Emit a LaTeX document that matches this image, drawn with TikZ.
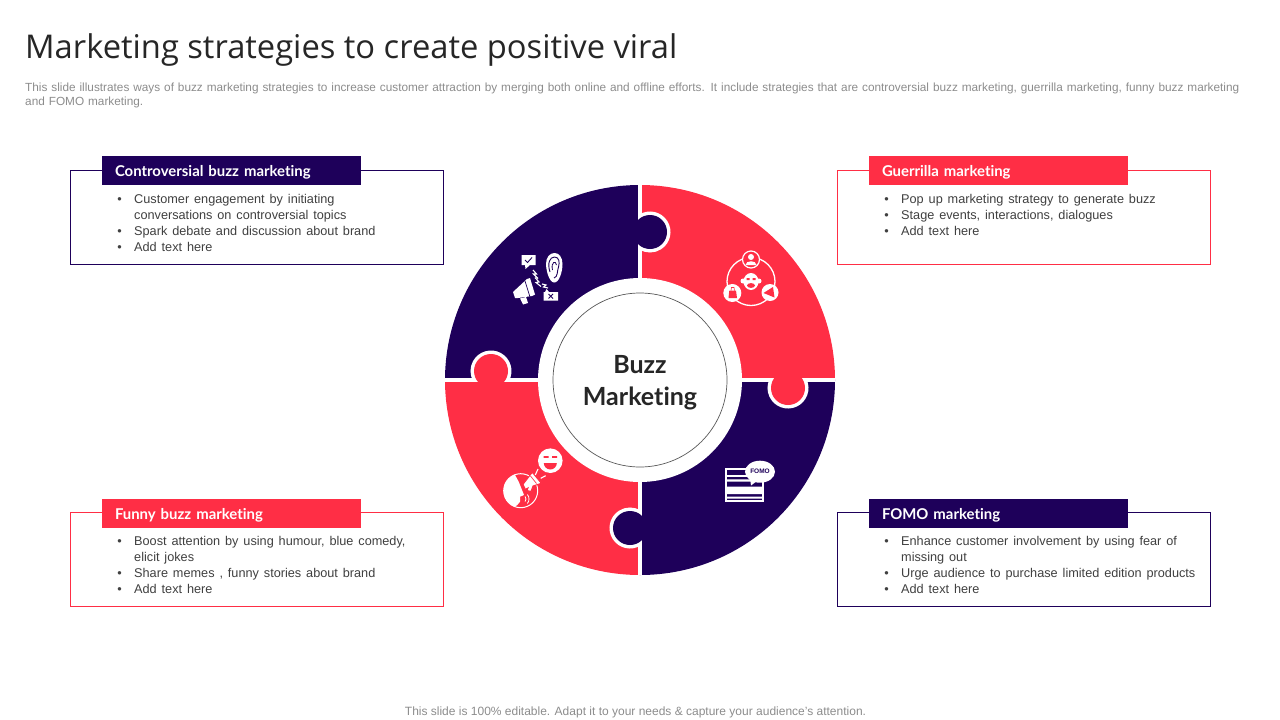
\documentclass[tikz,border=0pt]{standalone}
\usepackage{fontspec}
\setmainfont{Liberation Sans}
\newfontfamily\titlefont{Open Sans}
\newfontfamily\headfont[Ligatures=NoCommon]{Lato}
\usetikzlibrary{positioning,calc}
\definecolor{navy}{HTML}{1E005A}
\definecolor{redish}{HTML}{FF2E45}
\definecolor{bodygrey}{HTML}{404040}
\definecolor{notegrey}{HTML}{8C8C8C}
\newcommand{\bul}[1]{\par\spaceskip=4.9pt\relax\noindent\llap{\textbullet\hspace{12.5pt}}#1}

\begin{document}
\begin{tikzpicture}[
				x=1pt, y=-1pt,
				textbox/.style={rectangle, draw=#1, fill=white, line width=0.8pt, minimum width=373pt, minimum height=94pt, inner sep=0pt},
				headbox/.style={rectangle, fill=#1, text=white, minimum width=259pt, minimum height=29pt, inner sep=0pt, text width=233pt, text height=14pt, text depth=2pt, align=left, font=\headfont\fontsize{14.9}{16}\selectfont\bfseries},
				bullets/.style={rectangle, inner sep=0pt, text width=330pt, align=left, text=bodygrey, font=\fontsize{12.7}{16}\selectfont},
				knob/.style={circle, fill=#1, minimum size=34pt, inner sep=0pt},
				ring/.style={white, line width=4pt},
				lbl/.style={inner sep=0pt, text=notegrey}
			]
			\useasboundingbox (0,0) rectangle (1280,720);
			\node[anchor=west, inner sep=0pt, text=black!85, font=\titlefont\fontsize{32.7}{40}\selectfont] (title) at (25,50) {Marketing strategies to create positive viral};
			\node[lbl, anchor=north west, text width=1240pt, align=left, font=\fontsize{11.8}{14}\selectfont] (intro) at (25,82.5) {This slide illustrates ways of buzz marketing strategies to increase customer attraction by merging both online and offline efforts. It include strategies that are controversial buzz marketing, guerrilla marketing, funny buzz marketing\newline and FOMO marketing.};
			\node[lbl, font=\fontsize{12}{14}\selectfont] (note) at (635.5,712.5) {This slide is 100\% editable. Adapt it to your needs \& capture your audience’s attention.};

			% four boxes
			\node[textbox=navy] (boxone) at (256.5,217) {};
			\node[textbox=redish] (boxtwo) at (1023.5,217) {};
			\node[textbox=redish] (boxthree) at (256.5,559.5) {};
			\node[textbox=navy] (boxfour) at (1023.5,559.5) {};
			\node[headbox=navy] (headone) at (231.5,170.5) {Controversial buzz marketing};
			\node[headbox=redish] (headtwo) at (998.5,170.5) {Guerrilla marketing};
			\node[headbox=redish] (headthree) at (231.5,513) {Funny buzz marketing};
			\node[headbox=navy] (headfour) at (998.5,513) {FOMO marketing};
			\node[bullets, anchor=north west] (listone) at (134,187) {\bul{Customer engagement by initiating\newline conversations on controversial topics}\bul{Spark debate and discussion about brand}\bul{Add text here}};
			\node[bullets, anchor=north west] (listtwo) at (901,187) {\bul{Pop up marketing strategy to generate buzz}\bul{Stage events, interactions, dialogues}\bul{Add text here}};
			\node[bullets, anchor=north west] (listthree) at (134,529) {\bul{Boost attention by using humour, blue comedy,\newline elicit jokes}\bul{Share memes , funny stories about brand}\bul{Add text here}};
			\node[bullets, anchor=north west] (listfour) at (901,529) {\bul{Enhance customer involvement by using fear of\newline missing out}\bul{Urge audience to purchase limited edition products}\bul{Add text here}};

			% ring
			\coordinate (hub) at (640,380);
			\fill[navy] (hub) -- (445,380) arc[start angle=180, end angle=270, radius=195] -- cycle;
			\fill[redish] (hub) -- (640,185) arc[start angle=270, end angle=360, radius=195] -- cycle;
			\fill[navy] (hub) -- (835,380) arc[start angle=0, end angle=90, radius=195] -- cycle;
			\fill[redish] (hub) -- (640,575) arc[start angle=90, end angle=180, radius=195] -- cycle;
			\draw[ring] (445,380) -- (835,380);
			\draw[ring] (640,185) -- (640,575);
			\draw[ring] (650,232) ++(-123:18.5) arc[start angle=-123, end angle=123, radius=18.5];
			\draw[ring] (788,388) ++(-25:18.5) arc[start angle=-25, end angle=205, radius=18.5];
			\draw[ring] (630,528) ++(57:18.5) arc[start angle=57, end angle=303, radius=18.5];
			\draw[ring] (491,371) ++(29:18.5) arc[start angle=29, end angle=-209, radius=18.5];
			\node[knob=navy] (knobone) at (650,232) {};
			\node[knob=redish] (knobtwo) at (788,388) {};
			\node[knob=navy] (knobthree) at (630,528) {};
			\node[knob=redish] (knobfour) at (491,371) {};
			\node[circle, fill=white, minimum size=204pt, inner sep=0pt] (disc) at (hub) {};
			\node[circle, draw=black!65, line width=0.7pt, minimum size=174pt, inner sep=0pt] (rim) at (hub) {};
			\node[inner sep=0pt, align=center, text=black!85, font=\headfont\fontsize{25}{32}\selectfont\bfseries] (buzz) at ($(hub)+(0,2.5)$) {Buzz\\Marketing};

			% icon, debate
			\begin{scope}[white]
			\fill (521.5,255) rectangle (535.5,265) (525,265) -- (530,265) -- (525.5,269) -- cycle;
			\draw[navy, line width=0.9pt] (525,260) -- (527.5,262.5) -- (532,257.5);
			\fill (543.5,292) rectangle (558,300.5) (545,292) -- (549,292) -- (546.5,289) -- cycle;
			\draw[navy, line width=0.8pt] (548.5,294) -- (553,298.5) (553,294) -- (548.5,298.5);
			\fill (546,264) .. controls (546,257) and (550,253) .. (554.5,253) .. controls (559,253) and (562.5,257) .. (562.5,264) .. controls (562.5,272) and (559,283) .. (554,282.5) .. controls (549,282) and (546,270) .. (546,264) -- cycle;
			\draw[navy, line width=0.9pt] (550,272) .. controls (547,263) and (550,257) .. (554.5,257) .. controls (559,257) and (560,262) .. (558.5,267) .. controls (557,271) and (558,277) .. (554,278);
			\draw[navy, line width=0.8pt] (552.5,270) .. controls (550.5,262) and (556,260) .. (556.5,265);
			\fill (513,292) -- (527,279) -- (530,278) -- (535,294.5) -- (532,296) -- (518,298) -- (515,298) -- cycle;
			\fill (520,298.5) -- (526,297) -- (528,303) -- (523,304.5) -- cycle;
			\draw[navy, line width=0.7pt] (525,281) -- (530,297);
			\draw[line width=1.1pt] (533,270) -- (536.5,274) -- (533.5,274) -- (538,278.5);
			\draw[line width=1.1pt] (535,277.5) -- (539,282) -- (536,282.5) -- (541,286.5);
			\draw[line width=1.1pt] (542,284) -- (546,285) -- (543.5,287) -- (548,288);
			\end{scope}

			% icon, gorilla
			\begin{scope}[white]
			\draw[line width=1.3pt] (751,281.5) circle[radius=24];
			\draw[line width=1.2pt, fill=redish] (751,259.5) circle[radius=8.5];
			\fill (751,257) circle[radius=3] (745.5,265) .. controls (745.5,260) and (756.5,260) .. (756.5,265) -- cycle;
			\fill (732.3,293) circle[radius=9];
			\fill[redish] (729.3,290.5) -- (736,290.5) -- (737,298) -- (728.5,298) -- cycle;
			\draw[redish, line width=0.6pt] (731,290.5) -- (731.5,287.5) -- (734,287.5) -- (734.5,290.5);
			\fill (770,292.5) circle[radius=8.5];
			\fill[redish] (763.5,293) -- (773,287) -- (774.5,297.5) -- cycle;
			\fill (751,281.5) ellipse[x radius=7.5, y radius=8.5] (743,281) circle[radius=2.5] (759,281) circle[radius=2.5];
			\fill[redish] (746.5,278) rectangle (749.5,280) (752.5,278) rectangle (755.5,280);
			\fill[redish] (751,285.5) ellipse[x radius=4, y radius=2.4];
			\end{scope}

			% icon, funny
			\begin{scope}[white]
			\fill (550.3,460.7) circle[radius=12.3];
			\fill[redish] (543.5,456) rectangle (548.5,457.8) (552.2,456) rectangle (557.2,457.8);
			\fill[redish] (543.8,463) -- (556.8,463) arc[start angle=0, end angle=180, radius=6.5] -- cycle;
			\draw[line width=1pt] (520.7,490.7) circle[radius=17];
			\fill (520.7,490.7) ++(110:17) arc[start angle=110, end angle=250, radius=17] -- (518.7,481.7) -- (522,490) -- (524,495) -- (520,496.7) -- (520,501.7) -- (517.3,505) -- cycle;
			\filldraw[fill=white, draw=redish, line width=1pt] (523,484.3) -- (532.3,472.3) -- (541.3,483.3) -- (533,486) -- (531,491.5) -- (527,490.5) -- (528,488) -- (525.3,489.3) -- cycle;
			\draw[redish, line width=0.7pt] (530.5,476) -- (536.5,483.5);
			\draw[line width=1.1pt] (535.3,475) -- (538,469) (540.7,478.3) -- (545.7,475.7);
			\draw[line width=0.8pt] (522,499) ++(-40:4) arc[start angle=-40, end angle=40, radius=4];
			\draw[line width=0.8pt] (522,499) ++(-40:7) arc[start angle=-40, end angle=40, radius=7];
			\end{scope}

			% icon, fomo
			\begin{scope}[white]
			\draw[line width=1.6pt] (726,469) rectangle (763,501);
			\draw[line width=1.6pt] (726,476) -- (763,476);
			\fill (727,479.3) rectangle (762,481.7) (727,486.7) rectangle (762,494) (727,496.7) rectangle (762,498.7);
			\fill[navy] (728,470.5) rectangle (741,473);
			\fill (760,471.7) ellipse[x radius=15, y radius=11] (750,478) -- (757,481) -- (751,485.5) -- cycle;
			\end{scope}
			\node[inner sep=0pt, text=navy, font=\fontsize{6.5}{7}\selectfont\bfseries] (fomo) at (760,471.5) {FOMO};
			\end{tikzpicture}
\end{document}
